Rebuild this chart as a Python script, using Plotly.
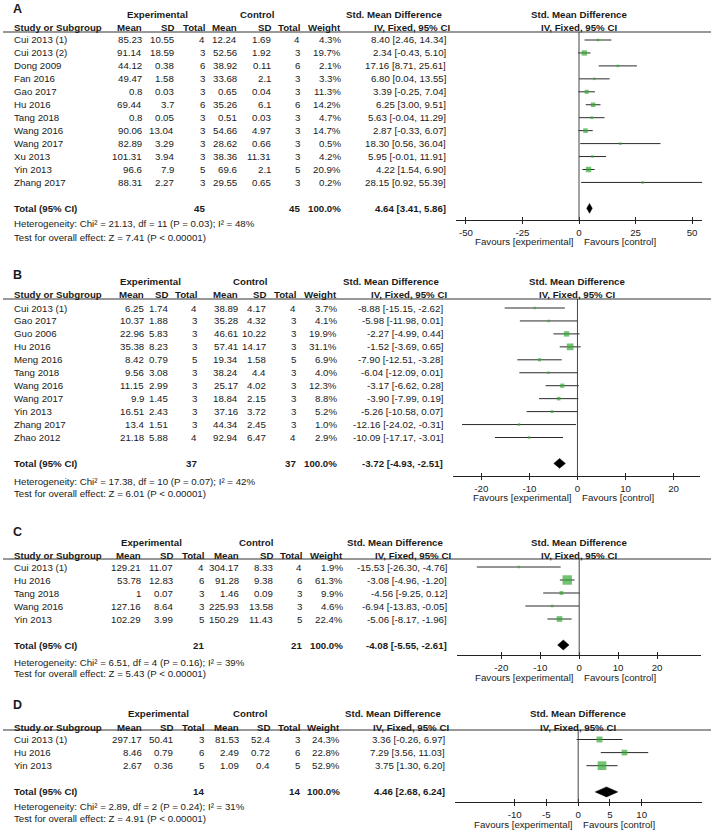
import math
import plotly.graph_objects as go

W, H = 713, 834
FONT = "Liberation Sans, Arial, sans-serif"
INK = "#1a1a1a"
GREEN = "#35a835"
FS = 9.7

# ---------------- panel A ----------------
a_study = ["Cui 2013 (1)", "Cui 2013 (2)", "Dong 2009", "Fan 2016", "Gao 2017", "Hu 2016",
           "Tang 2018", "Wang 2016", "Wang 2017", "Xu 2013", "Yin 2013", "Zhang 2017"]
a_exp_mean = [85.23, 91.14, 44.12, 49.47, 0.8, 69.44, 0.8, 90.06, 82.89, 101.31, 96.6, 88.31]
a_exp_sd = [10.55, 18.59, 0.38, 1.58, 0.03, 3.7, 0.05, 13.04, 3.29, 3.94, 7.9, 2.27]
a_exp_n = [4, 3, 6, 3, 3, 6, 3, 3, 3, 3, 5, 3]
a_ctl_mean = [12.24, 52.56, 38.92, 33.68, 0.65, 35.26, 0.51, 54.66, 28.62, 38.36, 69.6, 29.55]
a_ctl_sd = [1.69, 1.92, 0.11, 2.1, 0.04, 6.1, 0.03, 4.97, 0.66, 11.31, 2.1, 0.65]
a_ctl_n = [4, 3, 6, 3, 3, 6, 3, 3, 3, 3, 5, 3]
a_weight = [4.3, 19.7, 2.1, 3.3, 11.3, 14.2, 4.7, 14.7, 0.5, 4.2, 20.9, 0.2]
a_smd = [8.40, 2.34, 17.16, 6.80, 3.39, 6.25, 5.63, 2.87, 18.30, 5.95, 4.22, 28.15]
a_lo = [2.46, -0.43, 8.71, 0.04, -0.25, 3.00, -0.04, -0.33, 0.56, -0.01, 1.54, 0.92]
a_hi = [14.34, 5.10, 25.61, 13.55, 7.04, 9.51, 11.29, 6.07, 36.04, 11.91, 6.90, 55.39]
a_total = [4.64, 3.41, 5.86]
a_total_n = [45, 45]
a_het = [21.13, 11, 0.03, 48]
a_z = 7.41
a_ticks = [-50, -25, 0, 25, 50]

# ---------------- panel B ----------------
b_study = ["Cui 2013 (1)", "Gao 2017", "Guo 2006", "Hu 2016", "Meng 2016", "Tang 2018",
           "Wang 2016", "Wang 2017", "Yin 2013", "Zhang 2017", "Zhao 2012"]
b_exp_mean = [6.25, 10.37, 22.96, 35.38, 8.42, 9.56, 11.15, 9.9, 16.51, 13.4, 21.18]
b_exp_sd = [1.74, 1.88, 5.83, 8.23, 0.79, 3.08, 2.99, 1.45, 2.43, 1.51, 5.88]
b_exp_n = [4, 3, 3, 3, 5, 3, 3, 3, 3, 3, 4]
b_ctl_mean = [38.89, 35.28, 46.61, 57.41, 19.34, 38.24, 25.17, 18.84, 37.16, 44.34, 92.94]
b_ctl_sd = [4.17, 4.32, 10.22, 14.17, 1.58, 4.4, 4.02, 2.15, 3.72, 2.45, 6.47]
b_ctl_n = [4, 3, 3, 3, 5, 3, 3, 3, 3, 3, 4]
b_weight = [3.7, 4.1, 19.9, 31.1, 6.9, 4.0, 12.3, 8.8, 5.2, 1.0, 2.9]
b_smd = [-8.88, -5.98, -2.27, -1.52, -7.90, -6.04, -3.17, -3.90, -5.26, -12.16, -10.09]
b_lo = [-15.15, -11.98, -4.99, -3.69, -12.51, -12.09, -6.62, -7.99, -10.58, -24.02, -17.17]
b_hi = [-2.62, 0.01, 0.44, 0.65, -3.28, 0.01, 0.28, 0.19, 0.07, -0.31, -3.01]
b_total = [-3.72, -4.93, -2.51]
b_total_n = [37, 37]
b_het = [17.38, 10, 0.07, 42]
b_z = 6.01
b_ticks = [-20, -10, 0, 10, 20]

# ---------------- panel C ----------------
c_study = ["Cui 2013 (1)", "Hu 2016", "Tang 2018", "Wang 2016", "Yin 2013"]
c_exp_mean = [129.21, 53.78, 1, 127.16, 102.29]
c_exp_sd = [11.07, 12.83, 0.07, 8.64, 3.99]
c_exp_n = [4, 6, 3, 3, 5]
c_ctl_mean = [304.17, 91.28, 1.46, 225.93, 150.29]
c_ctl_sd = [8.33, 9.38, 0.09, 13.58, 11.43]
c_ctl_n = [4, 6, 3, 3, 5]
c_weight = [1.9, 61.3, 9.9, 4.6, 22.4]
c_smd = [-15.53, -3.08, -4.56, -6.94, -5.06]
c_lo = [-26.30, -4.96, -9.25, -13.83, -8.17]
c_hi = [-4.76, -1.20, 0.12, -0.05, -1.96]
c_total = [-4.08, -5.55, -2.61]
c_total_n = [21, 21]
c_het = [6.51, 4, 0.16, 39]
c_z = 5.43
c_ticks = [-20, -10, 0, 10, 20]

# ---------------- panel D ----------------
d_study = ["Cui 2013 (1)", "Hu 2016", "Yin 2013"]
d_exp_mean = [297.17, 8.46, 2.67]
d_exp_sd = [50.41, 0.79, 0.36]
d_exp_n = [3, 6, 5]
d_ctl_mean = [81.53, 2.49, 1.09]
d_ctl_sd = [52.4, 0.72, 0.4]
d_ctl_n = [3, 6, 5]
d_weight = [24.3, 22.8, 52.9]
d_smd = [3.36, 7.29, 3.75]
d_lo = [-0.26, 3.56, 1.30]
d_hi = [6.97, 11.03, 6.20]
d_total = [4.46, 2.68, 6.24]
d_total_n = [14, 14]
d_het = [2.89, 2, 0.24, 31]
d_z = 4.91
d_ticks = [-10, -5, 0, 5, 10]

panels = [
    dict(label="A", study=a_study, em=a_exp_mean, es=a_exp_sd, en=a_exp_n, cm=a_ctl_mean,
         cs=a_ctl_sd, cn=a_ctl_n, w=a_weight, smd=a_smd, lo=a_lo, hi=a_hi, tot=a_total,
         tot_n=a_total_n, het=a_het, z=a_z, ticks=a_ticks),
    dict(label="B", study=b_study, em=b_exp_mean, es=b_exp_sd, en=b_exp_n, cm=b_ctl_mean,
         cs=b_ctl_sd, cn=b_ctl_n, w=b_weight, smd=b_smd, lo=b_lo, hi=b_hi, tot=b_total,
         tot_n=b_total_n, het=b_het, z=b_z, ticks=b_ticks),
    dict(label="C", study=c_study, em=c_exp_mean, es=c_exp_sd, en=c_exp_n, cm=c_ctl_mean,
         cs=c_ctl_sd, cn=c_ctl_n, w=c_weight, smd=c_smd, lo=c_lo, hi=c_hi, tot=c_total,
         tot_n=c_total_n, het=c_het, z=c_z, ticks=c_ticks),
    dict(label="D", study=d_study, em=d_exp_mean, es=d_exp_sd, en=d_exp_n, cm=d_ctl_mean,
         cs=d_ctl_sd, cn=d_ctl_n, w=d_weight, smd=d_smd, lo=d_lo, hi=d_hi, tot=d_total,
         tot_n=d_total_n, het=d_het, z=d_z, ticks=d_ticks),
]

# geometry of each panel in pixels (layout only)
geo = [
    dict(label_y=9, group_y=14, head_y=27, line_y=32, row0=40, sp=12.95, axis_y=220,
         het_y=223, test_y=237, cols=[144, 176, 207, 239, 273, 302, 343], smd_x=448,
         exp_c=157, ctl_c=257, plot_x=[456, 702], xr=[-54.4, 54.4]),
    dict(label_y=275, group_y=281, head_y=294, line_y=299, row0=308, sp=12.95, axis_y=476,
         het_y=481, test_y=493, cols=[146, 170, 199, 240, 268, 298, 339], smd_x=445,
         exp_c=150, ctl_c=250, plot_x=[453, 700], xr=[-25.9, 25.5]),
    dict(label_y=532, group_y=542, head_y=555, line_y=559, row0=567, sp=13.0, axis_y=655,
         het_y=662, test_y=673, cols=[143, 175, 206, 241, 275, 304, 345], smd_x=449,
         exp_c=151, ctl_c=256, plot_x=[457, 701], xr=[-31.4, 31.3]),
    dict(label_y=705, group_y=713, head_y=727, line_y=730, row0=739.5, sp=13.1, axis_y=802,
         het_y=806, test_y=818, cols=[144, 175, 206, 241, 272, 302, 342], smd_x=447,
         exp_c=158, ctl_c=250, plot_x=[455, 702], xr=[-19.4, 19.5]),
]

fig = go.Figure()


def txt(s, x, y, anchor="right", bold=False, size=FS, yref="paper"):
    if yref == "paper":
        y = 1 - y / H
    fig.add_annotation(text=f"<b>{s}</b>" if bold else s, x=x / W, xref="paper", y=y,
                       yref=yref, xanchor=anchor, yanchor="middle", showarrow=False,
                       font=dict(family=FONT, size=size, color=INK))


def fmt_ci(v):
    return f"{v[0]:.2f} [{v[1]:.2f}, {v[2]:.2f}]"


for k, (p, g) in enumerate(zip(panels, geo), start=1):
    sfx = "" if k == 1 else str(k)
    xa, ya = "x" + sfx, "y" + sfx
    n = len(p["study"])
    tot_row = n + 1
    cols = g["cols"]

    # axes
    y_bot = (g["axis_y"] - g["row0"]) / g["sp"]
    y_top = (g["line_y"] - g["row0"]) / g["sp"]
    xdom = [g["plot_x"][0] / W, g["plot_x"][1] / W]
    ydom = [1 - g["axis_y"] / H, 1 - g["line_y"] / H]
    tick_txt = [str(t) for t in p["ticks"]]
    fig.layout["xaxis" + sfx] = dict(
        domain=xdom, range=g["xr"], anchor=ya, tickvals=p["ticks"], ticktext=tick_txt,
        ticks="outside", ticklen=3, tickwidth=1, tickcolor="#222", showline=True,
        linecolor="#222", linewidth=1, showgrid=False, zeroline=False,
        tickfont=dict(family=FONT, size=FS, color=INK), fixedrange=True)
    fig.layout["yaxis" + sfx] = dict(domain=ydom, range=[y_bot, y_top], anchor=xa,
                                    visible=False, fixedrange=True)
    # overlay axis for the upper half of the crossing ticks
    ov = str(k + 4)
    fig.layout["xaxis" + ov] = dict(
        domain=xdom, range=g["xr"], overlaying=xa, anchor=ya, tickvals=p["ticks"],
        ticks="inside", ticklen=3, tickwidth=1, tickcolor="#222", showticklabels=False,
        showline=False, showgrid=False, zeroline=False, fixedrange=True)
    fig.add_trace(go.Scatter(x=[], y=[], xaxis="x" + ov, yaxis=ya, showlegend=False,
                             hoverinfo="skip"))

    # zero line and header rule
    fig.add_shape(type="line", xref=xa, yref=ya + " domain", x0=0, x1=0, y0=0, y1=1,
                  line=dict(color="#444", width=1))
    fig.add_shape(type="line", xref="paper", yref="paper", x0=3 / W, x1=711 / W,
                  y0=1 - g["line_y"] / H, y1=1 - g["line_y"] / H,
                  line=dict(color="#333", width=1))

    # confidence intervals
    cx, cy = [], []
    for i in range(n):
        cx += [p["lo"][i], p["hi"][i], None]
        cy += [i, i, None]
    fig.add_trace(go.Scatter(x=cx, y=cy, mode="lines", xaxis=xa, yaxis=ya,
                             line=dict(color="#2a2a2a", width=1), showlegend=False,
                             hoverinfo="skip"))
    # weighted squares
    fig.add_trace(go.Scatter(
        x=p["smd"], y=list(range(n)), mode="markers", xaxis=xa, yaxis=ya,
        marker=dict(symbol="square", color=GREEN,
                    size=[max(2.5, 1.2 * math.sqrt(w)) for w in p["w"]],
                    line=dict(width=0)),
        showlegend=False, hoverinfo="skip"))
    # pooled diamond
    s, lo, hi = p["tot"]
    hh = 0.38
    fig.add_trace(go.Scatter(
        x=[lo, s, hi, s, lo], y=[tot_row, tot_row - hh, tot_row, tot_row + hh, tot_row],
        mode="lines", fill="toself", fillcolor="black", line=dict(color="black", width=0.5),
        xaxis=xa, yaxis=ya, showlegend=False, hoverinfo="skip"))

    # headers
    txt(p["label"], 11, g["label_y"], anchor="left", bold=True, size=12.5)
    txt("Experimental", g["exp_c"], g["group_y"], anchor="center", bold=True)
    txt("Control", g["ctl_c"], g["group_y"], anchor="center", bold=True)
    txt("Std. Mean Difference", g["smd_x"] - 4, g["group_y"], bold=True)
    txt("Study or Subgroup", 12, g["head_y"], anchor="left", bold=True)
    for name, cx_ in zip(["Mean", "SD", "Total", "Mean", "SD", "Total", "Weight"], cols):
        txt(name, cx_, g["head_y"], bold=True)
    txt("IV, Fixed, 95% CI", g["smd_x"] + 4, g["head_y"], bold=True)
    for s_, py in [("Std. Mean Difference", g["group_y"]), ("IV, Fixed, 95% CI", g["head_y"])]:
        fig.add_annotation(text=f"<b>{s_}</b>", x=0, xref=xa, y=1 - py / H, yref="paper",
                           xanchor="center", yanchor="middle", showarrow=False,
                           font=dict(family=FONT, size=FS, color=INK))

    # study rows
    for i in range(n):
        vals = [f"{p['em'][i]:g}", f"{p['es'][i]:g}", str(p["en"][i]),
                f"{p['cm'][i]:g}", f"{p['cs'][i]:g}", str(p["cn"][i]),
                f"{p['w'][i]:.1f}%"]
        txt(p["study"][i], 12, i, anchor="left", yref=ya)
        for v, cx_ in zip(vals, cols):
            txt(v, cx_, i, yref=ya)
        txt(fmt_ci([p["smd"][i], p["lo"][i], p["hi"][i]]), g["smd_x"], i, yref=ya)

    # total row
    txt("Total (95% CI)", 12, tot_row, anchor="left", bold=True, yref=ya)
    txt(str(p["tot_n"][0]), cols[2], tot_row, bold=True, yref=ya)
    txt(str(p["tot_n"][1]), cols[5], tot_row, bold=True, yref=ya)
    txt("100.0%", cols[6], tot_row, bold=True, yref=ya)
    txt(fmt_ci(p["tot"]), g["smd_x"], tot_row, bold=True, yref=ya)

    chi, df, pv, i2 = p["het"]
    txt(f"Heterogeneity: Chi² = {chi:.2f}, df = {df} (P = {pv:.2f}); I² = {i2}%",
        12, g["het_y"], anchor="left")
    txt(f"Test for overall effect: Z = {p['z']:.2f} (P < 0.00001)", 12, g["test_y"],
        anchor="left")

    # favours labels
    for s_, anc, sh in [("Favours [experimental]", "right", -3), ("Favours [control]", "left", 3)]:
        fig.add_annotation(text=s_, x=0, xref=xa, xshift=sh, y=1 - (g["axis_y"] + 22) / H,
                           yref="paper", xanchor=anc, yanchor="middle", showarrow=False,
                           font=dict(family=FONT, size=FS, color=INK))

fig.update_layout(width=W, height=H, margin=dict(l=0, r=0, t=0, b=0), showlegend=False,
                  paper_bgcolor="white", plot_bgcolor="rgba(0,0,0,0)",
                  font=dict(family=FONT, size=FS, color=INK))

# drop the browser's default body margin so the figure fills the window
fig.write_html("out.html", config={"displayModeBar": False},
               post_script="document.body.style.margin='0';")
